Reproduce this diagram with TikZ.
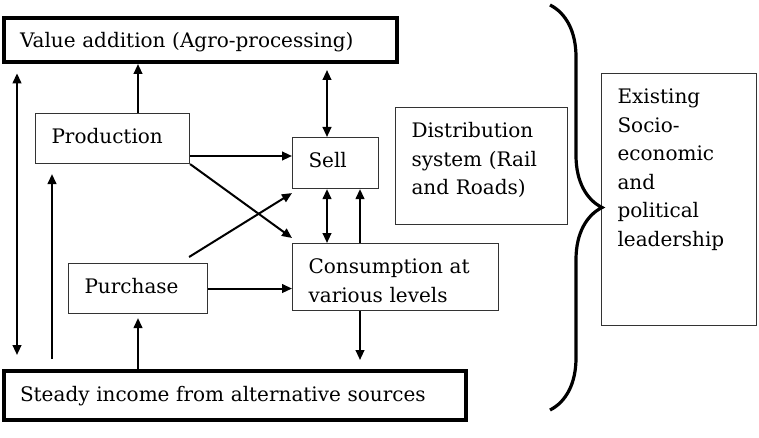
\documentclass[tikz,border=0pt]{standalone}
\usepackage{fontspec}
\setmainfont{DejaVu Serif}
\usetikzlibrary{arrows.meta, decorations.pathreplacing, calc}
\tikzstyle{box} = [
    rectangle,
    anchor=north west,
    draw=black!80,
    line width=0.8pt,
    inner xsep=12pt,
    inner ysep=0pt,
    text height=22.5pt,
    align=left
]
\tikzstyle{mainbox} = [
    box,
    draw=black,
    line width=3pt
]
\tikzstyle{arrow} = [line width=1.5pt,->,>={Triangle[length=7.5pt,width=6.5pt]}]
\tikzstyle{bracket} = [
    line width=2.4pt,
    decorate,
    decoration={brace, amplitude=39pt}
]

\begin{document}
\begin{tikzpicture}[x=0.75pt, y=-0.75pt, font=\fontsize{15}{21.4}\selectfont]
\useasboundingbox (0,0) rectangle (759,438);

\node (value) [mainbox, text width=270.75pt, text depth=10.5pt] at (2,16)
{Value addition (Agro-processing)};

\node (production) [box, text width=91.5pt, text depth=15pt] at (35,113)
{Production};

\node (sell) [box, text width=40.5pt, text depth=15.75pt] at (292,137)
{Sell};

\node (distribution) [box, text width=105pt, text depth=65.25pt] at (395,107)
{Distribution\\system (Rail\\and Roads)};

\node (purchase) [box, text width=80.25pt, text depth=15pt] at (68,263)
{Purchase};

\node (consumption) [box, text width=130.5pt, text depth=27.75pt] at (292,243)
{Consumption at\\various levels};

\node (income) [mainbox, text width=322.5pt, text depth=14.25pt] at (2,369)
{Steady income from alternative sources};

\node (existing) [box, text width=92.25pt, text depth=166.5pt] at (601,73)
{Existing\\Socio-\\economic\\and\\political\\leadership};

\draw [bracket] (550,5) -- (550,410);

\draw [arrow, <->, shorten <=7pt, shorten >=10.5pt] (value.south -| 17,0) -- (income.north -| 17,0);
\draw [arrow, shorten <=7.5pt, shorten >=7.5pt] (income.north -| 52,0) -- (production.south -| 52,0);
\draw [arrow, shorten >=3pt] (income.north -| 138,0) -- (purchase.south -| 138,0);
\draw [arrow] (production.north -| 138,0) -- (value.south -| 138,0);

\draw [arrow, <->, shorten <=4.5pt] (value.south -| 327,0) -- (sell.north -| 327,0);
\draw [arrow, <->] (sell.south -| 327,0) -- (consumption.north -| 327,0);
\draw [arrow] (consumption.north -| 360,0) -- (sell.south -| 360,0);
\draw [arrow, shorten >=6.75pt] (consumption.south -| 360,0) -- (income.north -| 360,0);

\draw [arrow] (production.east |- 0,156) -- (sell.west |- 0,156);
\draw [arrow] (production.south east) -- ($(consumption.north west)+(0,-5)$);
\draw [arrow] ($(purchase.north east)+(-19,-6)$) -- ($(sell.south west)+(0,4)$);
\draw [arrow] (purchase.east) -- (consumption.west |- purchase.east);

\end{tikzpicture}
\end{document}
